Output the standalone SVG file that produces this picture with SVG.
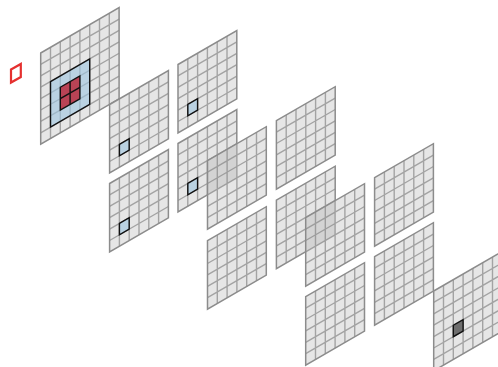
<svg xmlns="http://www.w3.org/2000/svg" width="498" height="367" viewBox="0 0 498 367">
<style>
.l{fill:none;stroke:#a3a3a3;stroke-width:1.4;vector-effect:non-scaling-stroke}
.b{fill:#e6e6e6;stroke:none}
.e{fill:none;stroke:#8c8c8c;stroke-width:1.5;vector-effect:non-scaling-stroke}
.k{stroke:#111;stroke-width:1.4;vector-effect:non-scaling-stroke}
.blue{fill:#9cc4e0;fill-opacity:.6}
.s{fill:#888;fill-opacity:.2}
</style>
<defs>
<g id="p6"><rect class="b" width="6" height="6"/><path class="l" d="M1 0V6M2 0V6M3 0V6M4 0V6M5 0V6M0 1H6M0 2H6M0 3H6M0 4H6M0 5H6"/><rect class="e" width="6" height="6"/></g>
<g id="p7"><rect class="b" width="7" height="7"/><path class="l" d="M1 0V7M2 0V7M3 0V7M4 0V7M5 0V7M6 0V7M0 1H7M0 2H7M0 3H7M0 4H7M0 5H7M0 6H7"/><rect class="e" width="7" height="7"/></g>
<g id="p8"><rect class="b" width="8" height="8"/><path class="l" d="M1 0V8M2 0V8M3 0V8M4 0V8M5 0V8M6 0V8M7 0V8M0 1H8M0 2H8M0 3H8M0 4H8M0 5H8M0 6H8M0 7H8"/><rect class="e" width="8" height="8"/></g>
</defs>
<g id="connectors"/>
<g id="marker"><path d="M11 69.5 L20.8 64V77L11 82.5Z" fill="none" stroke="#e5302f" stroke-width="2.2"/></g>
<g id="A" transform="matrix(9.8,-5.667,0,11.4,40.7,53)"><use href="#p8"/><rect class="k blue" x="1" y="3" width="4" height="4"/><rect class="k" x="2" y="4" width="2" height="2" fill="#b82a3c" fill-opacity=".85"/><path class="k" d="M3 4V6M2 5H4"/></g>
<g id="B" transform="matrix(9.8,-5.667,0,11.4,109.6,104.5)"><use href="#p6"/><rect class="k blue" x="1" y="4" width="1" height="1"/></g>
<g id="C" transform="matrix(9.8,-5.667,0,11.4,109.6,183.5)"><use href="#p6"/><rect class="k blue" x="1" y="4" width="1" height="1"/></g>
<g id="D" transform="matrix(9.8,-5.667,0,11.4,178,64.5)"><use href="#p6"/><rect class="k blue" x="1" y="4" width="1" height="1"/></g>
<g id="E" transform="matrix(9.8,-5.667,0,11.4,178,143.5)"><use href="#p6"/><rect class="k blue" x="1" y="4" width="1" height="1"/></g>
<g id="F" transform="matrix(9.8,-5.667,0,11.4,207.5,160.7)"><use href="#p6"/><rect class="s" width="3" height="3"/></g>
<g id="G" transform="matrix(9.8,-5.667,0,11.4,207.5,240.7)"><use href="#p6"/></g>
<g id="H" transform="matrix(9.8,-5.667,0,11.4,276.4,120.7)"><use href="#p6"/></g>
<g id="I" transform="matrix(9.8,-5.667,0,11.4,276.4,200.2)"><use href="#p6"/></g>
<g id="J" transform="matrix(9.8,-5.667,0,11.4,305.7,217.7)"><use href="#p6"/><rect class="s" width="3" height="3"/></g>
<g id="K" transform="matrix(9.8,-5.667,0,11.4,305.7,296.7)"><use href="#p6"/></g>
<g id="L" transform="matrix(9.8,-5.667,0,11.4,374.6,177.7)"><use href="#p6"/></g>
<g id="M" transform="matrix(9.8,-5.667,0,11.4,374.6,256.7)"><use href="#p6"/></g>
<g id="N" transform="matrix(9.8,-5.667,0,11.4,433.7,291)"><use href="#p7"/><rect class="k" x="2" y="4" width="1" height="1" fill="#6e6e6e"/></g>
</svg>
